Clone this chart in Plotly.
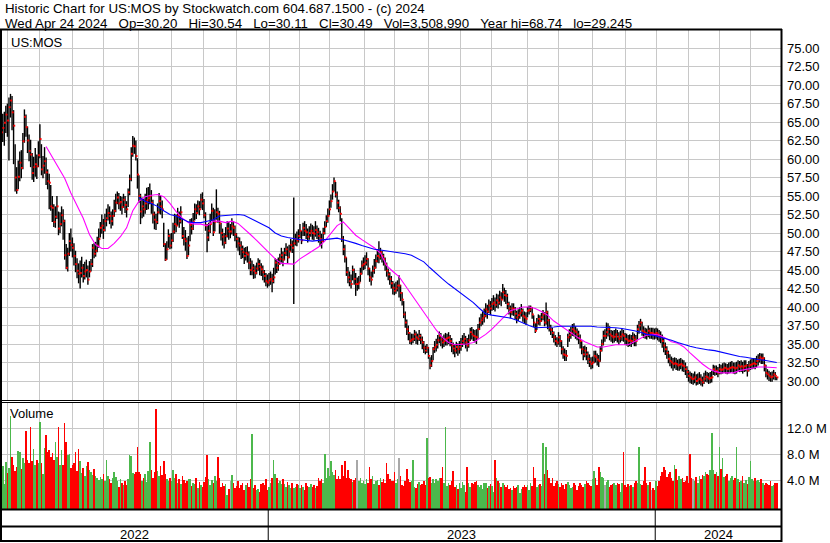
import plotly.graph_objects as go
import pandas as pd

# ---------------- data ----------------
close = [
    63.6, 64.2, 64.9, 66.0, 65.2, 67.0, 67.9, 66.3, 64.5, 57.5,
    55.8, 57.6, 59.5, 58.8, 62.4, 65.7, 64.3, 62.5, 61.1, 60.6,
    58.1, 58.9, 59.3, 59.0, 60.5, 62.7, 58.6, 59.1, 59.7, 58.2,
    57.0, 56.8, 53.6, 53.4, 51.5, 52.2, 53.6, 50.6, 51.2, 52.4,
    51.6, 47.0, 45.3, 47.2, 48.9, 48.4, 48.0, 46.9, 45.8, 44.9,
    44.5, 44.6, 45.3, 44.2, 44.8, 45.0, 43.7, 44.8, 45.8, 48.0,
    47.2, 47.6, 48.3, 49.2, 50.7, 51.0, 50.4, 51.6, 52.0, 52.7,
    52.3, 51.6, 52.3, 53.0, 54.1, 54.8, 54.0, 54.2, 53.5, 54.5,
    53.8, 53.2, 55.5, 57.3, 60.7, 61.8, 61.7, 60.4, 57.9, 55.0,
    52.9, 53.6, 53.2, 54.0, 54.4, 54.7, 55.0, 54.1, 52.5, 51.8,
    51.5, 52.8, 54.3, 53.6, 53.2, 48.5, 46.4, 47.8, 49.6, 48.3,
    49.0, 50.2, 51.2, 51.0, 52.3, 51.6, 52.8, 49.6, 49.2, 48.9,
    46.9, 48.3, 51.1, 50.6, 51.5, 53.2, 52.7, 53.6, 53.2, 54.5,
    54.0, 52.4, 51.0, 49.4, 50.3, 51.2, 53.0, 50.1, 51.5, 52.8,
    52.6, 51.3, 50.0, 49.5, 48.7, 49.6, 50.6, 50.2, 50.2, 50.9,
    50.7, 49.8, 49.2, 48.6, 48.3, 47.8, 47.4, 46.9, 47.3, 47.1,
    46.0, 45.0, 45.3, 44.9, 44.6, 45.2, 45.8, 45.4, 45.1, 44.7,
    44.2, 43.5, 43.3, 43.6, 43.8, 43.5, 44.0, 46.0, 45.3, 45.8,
    46.5, 47.0, 46.4, 47.3, 47.8, 46.7, 47.5, 48.4, 48.0, 48.6,
    49.2, 49.0, 49.6, 50.3, 49.0, 50.7, 50.3, 50.1, 49.5, 50.0,
    50.3, 50.0, 49.9, 50.4, 50.1, 49.6, 49.2, 48.9, 50.0, 50.8,
    51.6, 52.3, 53.2, 54.3, 55.6, 57.0, 55.2, 54.1, 53.4, 52.6,
    49.2, 47.8, 46.7, 44.7, 44.0, 43.5, 43.1, 45.0, 43.8, 43.1,
    43.1, 43.3, 44.5, 45.6, 45.8, 46.0, 46.5, 45.2, 44.0, 43.7,
    44.9, 45.3, 46.2, 46.9, 46.7, 47.4, 46.9, 46.5, 45.8, 44.9,
    44.4, 43.8, 43.2, 42.6, 42.2, 42.5, 42.9, 42.9, 41.9, 41.0,
    39.0, 37.9, 37.0, 36.5, 35.4, 35.6, 35.7, 36.3, 35.9, 35.7,
    36.1, 35.6, 35.2, 34.5, 34.1, 34.5, 33.4, 32.1, 32.7, 34.3,
    34.6, 34.9, 35.5, 36.1, 35.6, 35.2, 35.4, 35.7, 35.8, 35.9,
    35.4, 34.8, 34.4, 34.1, 34.6, 34.3, 34.6, 35.0, 35.4, 35.7,
    35.2, 34.8, 35.5, 36.6, 36.3, 36.1, 36.0, 35.9, 37.0, 37.9,
    38.2, 38.5, 38.8, 39.7, 39.4, 40.2, 39.8, 40.4, 40.6, 40.3,
    40.9, 40.6, 41.3, 41.0, 42.0, 41.6, 41.5, 40.4, 39.8, 39.3,
    39.8, 39.7, 39.1, 38.6, 38.9, 39.2, 39.5, 38.8, 38.6, 38.4,
    39.5, 39.6, 39.9, 39.0, 37.9, 36.8, 37.9, 38.4, 38.1, 38.6,
    39.0, 37.9, 39.3, 38.2, 37.2, 36.9, 36.5, 35.9, 35.4, 35.2,
    35.9, 35.4, 34.3, 33.6, 33.5, 33.4, 35.9, 36.2, 36.5, 37.0,
    36.8, 36.6, 36.3, 35.8, 35.4, 34.3, 33.6, 34.1, 33.6, 33.0,
    32.6, 32.3, 32.5, 33.4, 33.2, 32.9, 32.7, 34.1, 35.0, 36.1,
    36.1, 36.6, 37.0, 36.3, 36.1, 35.9, 36.0, 36.3, 36.0, 35.7,
    36.0, 36.3, 36.1, 35.7, 35.6, 35.4, 35.5, 35.4, 35.9, 35.6,
    35.4, 37.0, 37.5, 37.9, 36.8, 36.6, 36.5, 36.3, 36.8, 36.5,
    36.5, 36.4, 36.3, 36.5, 36.3, 36.1, 35.9, 35.4, 34.8, 34.3,
    33.8, 33.0, 32.7, 32.5, 32.3, 32.4, 32.3, 32.1, 32.2, 32.3,
    32.1, 32.0, 31.6, 31.2, 30.7, 30.5, 30.3, 30.3, 30.5, 30.0,
    30.2, 30.3, 30.1, 29.8, 30.3, 30.6, 30.5, 30.3, 30.4, 30.5,
    31.6, 31.3, 31.4, 31.1, 31.6, 31.5, 31.6, 31.8, 31.7, 31.6,
    31.7, 31.8, 31.9, 31.8, 31.7, 31.8, 32.1, 31.9, 32.0, 31.8,
    32.0, 32.1, 31.4, 32.1, 32.2, 32.3, 32.4, 32.3, 32.7, 32.9,
    33.2, 33.0, 33.1, 32.1, 31.1, 30.9, 30.7, 30.5, 30.6, 30.9,
    30.7, 30.49,
]

high = [
    65.8, 66.1, 66.4, 67.2, 67.5, 68.3, 68.8, 68.5, 66.6, 62.0,
    58.9, 59.8, 61.0, 61.2, 63.5, 66.7, 66.0, 64.4, 63.3, 62.6,
    60.8, 60.3, 61.5, 60.6, 62.4, 64.7, 62.0, 60.4, 61.6, 60.2,
    58.6, 58.0, 56.5, 55.0, 53.9, 53.6, 55.0, 52.9, 52.8, 53.6,
    53.2, 51.8, 48.5, 48.0, 50.0, 50.6, 49.4, 48.6, 47.6, 46.6,
    45.9, 46.3, 46.8, 45.8, 46.1, 46.4, 45.6, 46.2, 46.5, 48.5,
    48.6, 48.8, 49.5, 50.6, 51.5, 52.5, 51.9, 52.6, 53.3, 53.9,
    53.6, 52.9, 53.2, 54.5, 55.3, 55.6, 55.4, 55.0, 54.9, 55.3,
    55.0, 54.3, 56.0, 57.9, 61.6, 63.1, 62.9, 62.5, 60.1, 57.8,
    55.3, 54.8, 54.6, 55.3, 56.1, 56.2, 56.7, 55.8, 54.5, 52.9,
    52.6, 54.0, 55.4, 55.0, 54.4, 51.4, 48.6, 48.9, 50.5, 49.9,
    50.0, 51.4, 52.6, 52.5, 53.4, 52.9, 53.6, 52.0, 50.8, 50.4,
    49.4, 49.6, 51.9, 52.0, 52.7, 54.0, 53.9, 54.4, 54.3, 55.3,
    55.5, 54.6, 52.8, 51.2, 51.4, 52.6, 54.0, 53.4, 53.2, 55.9,
    53.4, 53.0, 51.4, 50.6, 50.0, 50.8, 51.6, 51.5, 51.2, 52.0,
    51.6, 51.0, 50.0, 49.5, 49.4, 48.9, 48.3, 48.0, 48.1, 48.2,
    47.5, 46.6, 46.3, 45.8, 45.6, 46.0, 46.6, 46.4, 45.9, 45.6,
    45.0, 44.6, 44.4, 44.6, 44.8, 44.5, 45.3, 46.6, 46.5, 46.7,
    47.2, 48.0, 47.5, 48.0, 48.6, 48.2, 48.4, 49.2, 49.0, 54.8,
    49.9, 50.2, 50.5, 51.2, 50.3, 51.4, 51.6, 51.2, 50.6, 50.9,
    51.3, 51.1, 50.9, 51.6, 51.0, 50.7, 50.3, 49.9, 50.7, 51.6,
    52.4, 53.3, 54.4, 55.2, 56.6, 57.5, 56.9, 55.6, 54.5, 53.6,
    52.0, 49.6, 48.4, 46.7, 45.4, 44.8, 44.4, 45.6, 45.2, 44.6,
    44.0, 44.2, 45.3, 46.3, 46.7, 47.0, 47.4, 46.6, 45.3, 44.8,
    45.6, 46.5, 47.1, 47.8, 48.9, 48.0, 47.6, 47.2, 46.7, 46.0,
    45.2, 44.7, 44.2, 43.5, 43.2, 43.4, 43.6, 44.3, 43.0, 42.0,
    40.8, 39.4, 38.3, 37.5, 36.6, 36.4, 36.4, 36.9, 36.7, 36.4,
    36.9, 36.4, 36.0, 35.4, 34.8, 35.0, 34.6, 33.2, 33.5, 34.6,
    35.4, 35.7, 36.2, 36.7, 36.5, 36.0, 36.3, 36.5, 36.4, 36.6,
    36.2, 35.8, 35.2, 35.0, 35.3, 35.1, 35.4, 35.8, 36.2, 36.5,
    36.1, 35.8, 36.3, 37.2, 37.3, 37.0, 36.9, 37.0, 37.7, 38.6,
    39.1, 39.4, 39.8, 40.5, 40.3, 41.0, 40.8, 41.2, 41.6, 41.3,
    41.8, 41.7, 42.2, 42.0, 43.1, 42.6, 42.3, 41.8, 40.7, 40.2,
    40.5, 40.5, 40.0, 39.5, 39.7, 40.0, 40.4, 39.8, 39.4, 39.3,
    40.0, 40.2, 40.2, 40.0, 38.9, 37.8, 38.5, 39.0, 38.9, 39.2,
    39.6, 39.3, 40.6, 39.5, 38.4, 37.6, 37.2, 36.7, 36.2, 35.9,
    36.6, 36.2, 35.5, 34.7, 34.4, 34.2, 36.4, 37.0, 37.3, 37.7,
    37.8, 37.4, 37.1, 36.8, 36.3, 35.4, 34.7, 34.8, 34.6, 34.0,
    33.6, 33.2, 33.3, 34.1, 34.1, 33.7, 33.5, 34.7, 35.6, 36.8,
    37.0, 37.9, 37.8, 37.4, 36.9, 36.8, 36.9, 37.1, 36.9, 36.6,
    36.8, 37.1, 36.9, 36.5, 36.4, 36.2, 36.3, 36.2, 36.6, 36.4,
    36.2, 37.6, 38.1, 38.4, 38.0, 37.4, 37.2, 37.1, 37.5, 37.2,
    37.2, 37.2, 37.1, 37.2, 37.1, 36.9, 36.7, 36.3, 35.8, 35.2,
    34.7, 34.1, 33.6, 33.3, 33.1, 33.2, 33.1, 32.9, 33.0, 33.1,
    32.9, 32.8, 32.5, 32.0, 31.5, 31.3, 31.1, 31.0, 31.3, 30.9,
    31.0, 31.2, 30.9, 30.6, 31.1, 31.4, 31.2, 31.1, 31.2, 31.4,
    32.2, 32.1, 32.1, 31.9, 32.3, 32.2, 32.4, 32.5, 32.4, 32.3,
    32.5, 32.6, 32.7, 32.5, 32.5, 32.6, 32.8, 32.7, 32.8, 32.6,
    32.8, 32.8, 32.3, 32.7, 32.9, 33.0, 33.1, 33.1, 33.4, 33.6,
    33.8, 33.7, 33.7, 33.2, 32.2, 31.6, 31.4, 31.2, 31.3, 31.5,
    31.2, 30.54,
]

low = [
    61.9, 62.3, 61.8, 63.5, 63.0, 59.8, 65.6, 63.9, 59.3, 55.6,
    55.3, 55.9, 57.0, 57.4, 58.6, 62.2, 63.0, 60.8, 59.7, 58.9,
    57.2, 56.9, 57.6, 57.3, 58.9, 60.1, 57.8, 57.4, 58.0, 56.5,
    55.9, 53.2, 53.0, 51.5, 50.8, 50.7, 51.9, 49.7, 50.0, 50.9,
    49.1, 46.4, 45.1, 44.8, 46.9, 47.5, 46.7, 45.6, 44.7, 43.9,
    43.2, 42.5, 44.0, 43.3, 43.7, 44.0, 43.0, 44.0, 44.8, 45.4,
    46.6, 46.8, 47.4, 48.0, 49.4, 49.9, 49.2, 50.2, 50.9, 51.7,
    51.2, 50.6, 51.0, 52.2, 52.8, 53.9, 53.2, 53.0, 52.5, 53.4,
    52.7, 52.1, 53.5, 55.1, 57.0, 60.3, 60.7, 59.8, 56.0, 54.1,
    51.2, 52.0, 52.2, 52.6, 53.1, 53.2, 53.9, 52.6, 51.3, 50.5,
    50.4, 51.2, 52.6, 52.5, 52.0, 48.1, 46.2, 46.4, 48.0, 47.8,
    47.9, 48.8, 49.9, 50.1, 51.0, 50.7, 51.3, 49.2, 48.3, 47.6,
    46.5, 47.0, 48.9, 49.8, 50.4, 51.7, 51.9, 52.6, 52.4, 53.3,
    53.1, 52.0, 50.3, 47.4, 48.9, 50.0, 51.6, 49.6, 50.2, 51.8,
    51.4, 49.9, 49.0, 48.3, 47.9, 48.5, 49.4, 49.1, 49.3, 49.8,
    49.6, 48.9, 48.0, 47.6, 47.0, 46.5, 46.6, 45.8, 46.3, 46.0,
    45.1, 44.3, 44.3, 43.8, 43.9, 44.4, 44.9, 44.3, 44.2, 43.6,
    43.3, 42.8, 42.6, 42.8, 43.0, 42.0, 43.2, 44.4, 44.6, 44.9,
    45.7, 46.0, 45.5, 46.3, 46.9, 45.9, 46.6, 47.5, 47.3, 40.4,
    48.3, 48.2, 48.7, 49.3, 48.5, 49.6, 49.6, 49.2, 48.7, 49.1,
    49.5, 49.1, 49.0, 49.5, 49.2, 48.7, 48.2, 47.9, 48.8, 49.8,
    50.8, 51.4, 52.4, 53.4, 54.5, 55.6, 54.8, 53.2, 52.8, 51.6,
    48.8, 47.0, 46.0, 44.2, 43.2, 42.8, 42.5, 43.6, 43.0, 41.5,
    42.2, 42.4, 43.4, 44.4, 45.0, 45.1, 45.6, 44.3, 43.4, 42.9,
    44.0, 44.5, 45.2, 46.0, 45.9, 46.4, 46.0, 45.6, 44.9, 44.1,
    43.6, 43.0, 42.5, 41.7, 41.6, 41.8, 42.1, 41.3, 40.8, 40.2,
    38.5, 37.2, 36.2, 35.5, 35.0, 34.9, 35.1, 35.4, 35.0, 34.9,
    35.4, 35.0, 34.3, 33.8, 33.6, 33.8, 33.0, 31.6, 31.9, 32.8,
    33.8, 34.0, 34.4, 35.1, 34.7, 34.4, 34.6, 34.8, 34.8, 35.0,
    34.7, 33.9, 33.6, 33.2, 33.7, 33.4, 33.7, 34.1, 34.6, 34.9,
    34.4, 34.0, 34.5, 35.4, 35.6, 35.4, 35.2, 35.0, 35.7, 36.9,
    37.4, 37.6, 37.9, 38.6, 38.4, 39.2, 38.9, 39.5, 39.6, 39.4,
    39.9, 39.8, 40.3, 40.1, 41.0, 40.7, 40.4, 39.7, 39.0, 38.5,
    38.9, 38.8, 38.3, 37.8, 38.1, 38.4, 38.7, 38.0, 37.7, 37.6,
    38.6, 39.0, 39.3, 38.4, 37.3, 36.5, 36.9, 37.6, 37.5, 38.0,
    38.2, 37.4, 37.6, 37.0, 36.7, 36.2, 35.8, 35.2, 34.8, 34.6,
    34.9, 34.6, 33.6, 33.0, 32.7, 32.7, 34.6, 35.3, 35.7, 36.1,
    36.0, 35.7, 35.5, 35.0, 34.4, 33.6, 32.8, 33.2, 32.8, 32.3,
    31.9, 31.6, 31.7, 32.4, 32.5, 32.1, 31.9, 32.6, 34.0, 34.8,
    35.3, 35.7, 36.0, 35.5, 35.3, 35.1, 35.2, 35.4, 35.2, 34.9,
    35.2, 35.4, 35.3, 34.9, 34.8, 34.6, 34.7, 34.6, 35.0, 34.7,
    34.7, 35.6, 36.4, 36.8, 36.1, 35.8, 35.7, 35.6, 35.9, 35.7,
    35.7, 35.6, 35.6, 35.7, 35.5, 35.3, 35.1, 34.5, 33.9, 33.5,
    33.0, 32.4, 32.0, 31.7, 31.4, 31.7, 31.5, 31.4, 31.4, 31.6,
    31.3, 31.2, 30.8, 30.4, 29.9, 29.7, 29.6, 29.5, 29.7, 29.4,
    29.5, 29.6, 29.4, 29.25, 29.6, 29.9, 29.8, 29.6, 29.7, 29.8,
    30.8, 30.7, 30.8, 30.5, 30.9, 30.9, 31.0, 31.1, 31.0, 30.9,
    31.0, 31.1, 31.2, 31.0, 30.9, 31.0, 31.3, 31.2, 31.2, 31.0,
    31.2, 31.3, 30.6, 31.3, 31.5, 31.6, 31.7, 31.6, 31.9, 32.1,
    32.5, 32.3, 32.3, 31.3, 30.5, 30.2, 30.0, 29.9, 29.9, 30.2,
    30.1, 30.11,
]

volume_m = [
    11.0, 6.2, 3.4, 6.8, 5.1, 5.9, 14.0, 7.6, 6.4, 5.4,
    6.0, 8.5, 8.4, 5.7, 7.5, 6.6, 11.7, 7.2, 6.6, 12.2,
    7.0, 8.9, 6.3, 7.1, 6.6, 13.0, 6.6, 4.9, 9.0, 11.0,
    8.3, 8.7, 7.6, 8.2, 7.1, 10.0, 7.6, 12.3, 6.4, 8.7,
    6.3, 12.9, 10.0, 7.9, 8.0, 5.9, 6.3, 6.7, 8.4, 5.4,
    8.9, 7.0, 5.1, 5.9, 4.6, 6.2, 6.8, 5.5, 5.2, 4.8,
    5.7, 4.7, 4.3, 4.0, 4.5, 4.2, 5.0, 3.9, 7.1, 4.6,
    4.1, 3.6, 4.4, 5.3, 4.5, 3.9, 2.9, 4.1, 3.6, 3.2,
    3.9, 3.3, 4.2, 7.9, 7.8, 5.1, 4.9, 5.3, 9.2, 5.2,
    4.9, 3.8, 4.3, 5.0, 3.7, 5.4, 10.0, 5.6, 4.4, 5.3,
    15.0, 5.4, 4.6, 6.2, 4.8, 7.0, 5.0, 4.1, 3.8, 4.4,
    3.8, 5.6, 4.4, 4.9, 3.6, 4.1, 3.4, 4.7, 4.0, 3.5,
    3.8, 4.2, 4.1, 3.1, 3.6, 3.4, 4.3, 2.8, 3.7, 3.3,
    2.9, 3.7, 4.5, 7.9, 4.1, 3.2, 4.0, 3.6, 4.6, 3.9,
    7.6, 4.3, 3.0, 3.5, 3.1, 3.4, 1.7, 2.6, 3.8, 4.8,
    3.5, 2.8, 3.1, 3.9, 2.7, 3.3, 3.5, 2.4, 3.3, 3.6,
    3.0, 4.1, 11.1, 2.7, 3.2, 2.4, 2.6, 2.2, 3.4, 3.6,
    3.2, 4.2, 2.5, 3.0, 3.6, 4.4, 7.1, 5.0, 4.3, 3.6,
    3.9, 3.4, 4.1, 3.4, 2.9, 3.7, 3.2, 2.7, 3.5, 2.8,
    3.0, 3.4, 3.2, 2.8, 3.3, 3.0, 2.5, 3.6, 3.1, 2.9,
    3.4, 3.0, 3.2, 2.7, 3.1, 4.3, 3.8, 4.1, 3.5, 8.1,
    4.4, 5.9, 4.7, 6.9, 5.2, 4.8, 5.5, 4.1, 4.7, 4.2,
    6.4, 4.6, 6.9, 4.3, 5.5, 4.3, 4.1, 3.7, 4.0, 4.4,
    7.1, 3.8, 4.3, 3.6, 3.9, 3.4, 4.1, 3.5, 6.1, 4.2,
    4.7, 3.4, 3.8, 4.0, 3.3, 4.3, 3.7, 4.1, 3.6, 6.6,
    4.9, 4.2, 3.9, 3.8, 5.3, 3.6, 4.1, 7.4, 4.6, 3.3,
    3.1, 3.8, 5.8, 4.2, 3.7, 3.9, 7.1, 3.0, 2.8, 3.4,
    3.7, 3.2, 3.4, 3.9, 3.3, 10.5, 4.3, 4.5, 3.6, 4.2,
    3.5, 4.1, 3.8, 4.3, 4.4, 6.0, 3.5, 12.2, 3.1, 3.6,
    3.2, 3.9, 5.4, 3.0, 3.3, 2.6, 3.5, 2.8, 3.7, 3.2,
    2.1, 6.0, 3.6, 2.9, 3.6, 3.4, 3.7, 3.8, 3.3, 3.0,
    3.2, 2.6, 3.6, 3.5, 2.7, 3.1, 3.4, 3.1, 2.2, 7.1,
    4.4, 3.8, 3.5, 2.9, 3.5, 3.2, 3.0, 3.3, 2.6, 2.8,
    2.4, 3.1, 2.8, 3.0, 3.3, 2.0, 2.6, 2.9, 3.2, 2.9,
    3.3, 2.5, 3.6, 3.1, 6.0, 4.4, 3.0, 3.3, 3.4, 3.1,
    9.7, 5.0, 9.2, 5.6, 4.4, 3.6, 4.3, 3.1, 3.5, 3.8,
    3.4, 2.9, 3.6, 3.2, 2.6, 3.4, 3.7, 3.2, 2.7, 3.0,
    3.5, 3.3, 2.4, 3.1, 3.6, 3.3, 3.0, 3.4, 3.8, 3.6,
    3.2, 3.1, 4.1, 5.4, 4.4, 3.3, 6.0, 5.3, 4.5, 4.4,
    3.2, 3.7, 4.0, 3.0, 3.2, 3.4, 3.6, 3.2, 3.5, 3.4,
    2.2, 3.5, 8.3, 3.3, 2.9, 3.4, 3.1, 3.2, 3.0, 3.5,
    3.8, 3.6, 9.1, 3.4, 3.3, 3.8, 6.0, 3.6, 3.3, 3.7,
    2.4, 2.7, 2.5, 3.8, 3.1, 3.9, 4.6, 5.2, 6.0, 5.6,
    4.5, 5.0, 5.3, 4.3, 3.8, 6.4, 5.8, 4.0, 4.6, 4.2,
    4.4, 3.7, 3.9, 4.6, 3.6, 8.0, 4.4, 4.1, 3.9, 4.5,
    3.6, 4.7, 4.2, 4.8, 4.6, 5.2, 4.9, 4.8, 5.6, 11.4,
    5.5, 4.9, 5.2, 4.6, 9.1, 5.8, 7.5, 4.5, 4.6, 5.0,
    3.9, 4.3, 4.6, 4.0, 4.4, 9.1, 4.2, 3.7, 3.8, 4.6,
    3.6, 4.0, 3.4, 4.5, 7.0, 4.1, 3.9, 4.4, 3.8, 4.0,
    3.7, 4.2, 3.5, 3.3, 3.6, 3.4, 3.2, 3.9, 3.1, 3.3,
    3.5, 3.5,
]

# moving averages, one value every 4 sessions
ma_fast = [
    61.7, 60.2, 58.7, 57.4, 55.4, 53.8, 52.0, 49.8, 48.4, 47.9,
    47.9, 48.6, 49.5, 50.7, 53.0, 54.3, 54.9, 55.1, 55.2, 54.9,
    54.0, 52.9, 52.0, 51.4, 51.2, 51.2, 51.0, 51.6, 51.6, 51.4,
    51.6, 51.3, 50.6, 49.8, 49.0, 48.2, 47.3, 46.5, 45.9, 45.8,
    45.8, 46.5, 47.0, 47.5, 48.1, 48.9, 49.9, 51.0, 51.5, 50.6,
    49.7, 49.1, 48.6, 48.0, 47.3, 45.6, 44.8, 44.1, 42.9, 41.7,
    40.4, 39.2, 38.1, 36.9, 35.9, 35.2, 34.9, 34.9, 35.0, 35.2,
    35.7, 36.3, 37.0, 37.9, 38.7, 39.5, 39.7, 40.0, 40.0, 39.8,
    39.4, 38.9, 38.1, 37.5, 36.9, 36.4, 35.8, 35.3, 34.9, 34.6,
    34.6, 34.8, 34.9, 34.9, 34.9, 35.3, 35.7, 36.2, 36.3, 36.2,
    35.8, 35.3, 35.1, 34.6, 33.8, 33.0, 32.3, 31.7, 31.3, 31.1,
    31.1, 31.1, 31.4, 31.6, 31.8, 31.9, 31.9, 31.8, 31.8,
]
ma_slow = [
    54.8, 54.3, 54.0, 53.6, 53.0, 52.5, 52.3, 51.9, 51.5, 51.4,
    51.4, 51.6, 51.8, 52.3, 52.4, 52.5, 52.5, 52.4, 52.0, 51.6,
    51.2, 50.7, 50.0, 49.6, 49.4, 49.2, 49.1, 49.0, 48.9, 49.0,
    49.1, 49.3, 49.3, 49.1, 48.9, 48.6, 48.3, 48.0, 47.8, 47.7,
    47.6, 47.5, 47.4, 47.2, 47.0, 46.6, 46.1, 45.3, 44.5, 43.8,
    43.1, 42.5, 41.9, 41.3, 40.6, 39.8, 39.1, 38.9, 38.8, 38.7,
    38.5, 38.2, 37.8, 37.5, 37.2, 37.2, 37.2, 37.3, 37.4, 37.4,
    37.5, 37.5, 37.5, 37.4, 37.3, 37.3, 37.3, 37.2, 37.1, 37.0,
    36.8, 36.6, 36.3, 36.2, 36.0, 35.8, 35.5, 35.2, 34.9, 34.7,
    34.5, 34.3, 34.2, 34.1, 33.9, 33.6, 33.5, 33.3, 33.2, 33.0,
    32.9, 32.8, 32.7, 32.5,
]

last_session = "2024-04-24"
market_holidays = [
    "2022-05-30", "2022-06-20", "2022-07-04", "2022-09-05", "2022-11-24",
    "2022-12-26", "2023-01-02", "2023-01-16", "2023-02-20", "2023-04-07",
    "2023-05-29", "2023-06-19", "2023-07-04", "2023-09-04", "2023-11-23",
    "2023-12-25", "2024-01-01", "2024-01-15", "2024-02-19", "2024-03-29",
]
price_ticks = [30.0, 32.5, 35.0, 37.5, 40.0, 42.5, 45.0, 47.5, 50.0, 52.5,
               55.0, 57.5, 60.0, 62.5, 65.0, 67.5, 70.0, 72.5, 75.0]
volume_ticks = [4.0, 8.0, 12.0]
volume_tick_text = ["4.0 M", "8.0 M", "12.0 M"]

title_line1 = "Historic Chart for US:MOS by Stockwatch.com 604.687.1500 - (c) 2024"
title_fields = ["Wed Apr 24 2024", "Op=30.20", "Hi=30.54", "Lo=30.11", "Cl=30.49",
                "Vol=3,508,990", "Year hi=68.74", "lo=29.245"]
symbol_label = "US:MOS"

n = len(close)
if not (len(high) == n and len(low) == n and len(volume_m) == n):
    raise SystemExit(f"length mismatch {len(close)} {len(high)} {len(low)} {len(volume_m)}")

# ---------------- geometry ----------------
W, H = 830, 543
X0, DX = 1.2, 1.548          # pixel of first session, pixels per session
PANEL_R = 781                # right frame of the chart panels
P_TOP, P_BOT = 30, 400       # price panel (pixels)
V_TOP, V_BOT = 402, 509      # volume panel (pixels)
A_MID, A_BOT = 526.5, 541    # year axis rows
FAST_START, SLOW_START, MA_STEP = 29, 89, 4

GRID = "#c8c8c8"
TXT = "#000000"
FONT = "Liberation Sans, Arial, sans-serif"
GREEN, RED, GREY = "#4cb84c", "#ff0000", "#a8a8a8"


def px(x):
    return x / W


def py(y):
    return 1 - y / H


dates = pd.bdate_range(end=last_session, periods=n, freq="C", holidays=market_holidays)
idx = list(range(n))
month_starts = [i for i in range(1, n) if dates[i].month != dates[i - 1].month]
year_starts = [i for i in range(1, n) if dates[i].year != dates[i - 1].year]
years = [str(dates[0].year)] + [str(dates[i].year) for i in year_starts]

x_range = [(0 - X0) / DX, (PANEL_R - X0) / DX]
p_per_px = 7.4
price_range = [30 - (P_BOT - 381) / p_per_px, 30 + (381 - P_TOP) / p_per_px]
v_px = 6.43
v_zero = 505.8
vol_range = [-(V_BOT - v_zero) / v_px, (v_zero - V_TOP) / v_px]
VBASE = vol_range[0]

fig = go.Figure()

# high-low bars
seg_x, seg_y = [], []
for i in idx:
    seg_x += [i, i, None]
    seg_y += [low[i], high[i], None]
fig.add_trace(go.Scatter(x=seg_x, y=seg_y, mode="lines", line=dict(color="black", width=1.4),
                         hoverinfo="skip", xaxis="x", yaxis="y"))
# close ticks
fig.add_trace(go.Scatter(x=[i + 0.45 for i in idx], y=close, mode="markers",
                         marker=dict(symbol="square", size=1.9, color="#ff0000", line=dict(width=0)),
                         hoverinfo="skip", xaxis="x", yaxis="y"))
# moving averages
fig.add_trace(go.Scatter(x=[FAST_START + MA_STEP * k for k in range(len(ma_fast))], y=ma_fast,
                         mode="lines", line=dict(color="#ff00ff", width=1.1), hoverinfo="skip",
                         xaxis="x", yaxis="y"))
fig.add_trace(go.Scatter(x=[SLOW_START + MA_STEP * k for k in range(len(ma_slow))], y=ma_slow,
                         mode="lines", line=dict(color="#0000ff", width=1.1), hoverinfo="skip",
                         xaxis="x", yaxis="y"))

# volume
colors = []
for i in idx:
    if i == 0 or close[i] > close[i - 1]:
        colors.append(GREEN)
    elif close[i] < close[i - 1]:
        colors.append(RED)
    else:
        colors.append(GREY)
fig.add_trace(go.Bar(x=idx, y=[v - VBASE for v in volume_m], base=VBASE, width=1.0,
                     marker=dict(color=colors, line=dict(width=0)), hoverinfo="skip",
                     xaxis="x2", yaxis="y2"))

xcommon = dict(range=x_range, domain=[0, px(PANEL_R)], tickvals=month_starts,
               showticklabels=False, ticks="", showgrid=True, gridcolor=GRID, gridwidth=1,
               zeroline=False, showline=False, fixedrange=True)
fig.update_layout(
    width=W, height=H, margin=dict(l=0, r=0, t=0, b=0),
    paper_bgcolor="white", plot_bgcolor="white", showlegend=False, bargap=0,
    font=dict(family=FONT, size=13, color=TXT),
    xaxis=dict(anchor="y", **xcommon),
    xaxis2=dict(anchor="y2", **xcommon),
    yaxis=dict(domain=[py(P_BOT), py(P_TOP)], range=price_range, side="right", anchor="x",
               tickvals=price_ticks, ticktext=[f"{t:.2f}" for t in price_ticks],
               ticks="", ticklabelstandoff=5, showgrid=True, gridcolor=GRID, gridwidth=1,
               zeroline=False, showline=False, tickfont=dict(size=13, color=TXT), fixedrange=True),
    yaxis2=dict(domain=[py(V_BOT), py(V_TOP)], range=vol_range, side="right", anchor="x2",
                tickvals=volume_ticks, ticktext=volume_tick_text,
                ticks="", ticklabelstandoff=5, showgrid=True, gridcolor=GRID, gridwidth=1,
                zeroline=False, showline=False, tickfont=dict(size=13, color=TXT), fixedrange=True),
)

# frames
shapes = []


def hline(y, x0, x1, w):
    shapes.append(dict(type="line", xref="paper", yref="paper", x0=px(x0), x1=px(x1),
                       y0=py(y), y1=py(y), line=dict(color="black", width=w), layer="above"))


def vline(x, y0, y1, w):
    shapes.append(dict(type="line", xref="paper", yref="paper", x0=px(x), x1=px(x),
                       y0=py(y0), y1=py(y1), line=dict(color="black", width=w), layer="above"))


hline(P_TOP - 0.5, 0, PANEL_R + 1, 2)
hline(P_BOT + 0.5, 0, PANEL_R + 1, 1)
hline(V_TOP + 0.5, 0, PANEL_R + 1, 1)
hline(V_BOT + 0.5, 0, PANEL_R + 1, 2)
hline(A_MID, 0, PANEL_R + 1, 2)
hline(A_BOT, 0, PANEL_R + 1, 2)
vline(1, P_TOP - 1, A_BOT + 1, 2)
vline(PANEL_R + 0.5, P_TOP - 1, A_BOT + 1, 2)
sep_px = [X0 + DX * (i - 0.5) for i in year_starts]
for s in sep_px:
    vline(s, V_BOT + 1, A_BOT, 1)
fig.update_layout(shapes=shapes)

# texts
ann = []
NB = "\u00a0"
ann.append(dict(text=title_line1, x=px(3), y=py(9), xref="paper", yref="paper",
                xanchor="left", yanchor="middle", showarrow=False,
                font=dict(size=13.3, family=FONT, color=TXT)))
ann.append(dict(text=(NB * 3).join(title_fields), x=px(3), y=py(23), xref="paper", yref="paper",
                xanchor="left", yanchor="middle", showarrow=False,
                font=dict(size=13.3, family=FONT, color=TXT)))
ann.append(dict(text=symbol_label, x=px(9), y=py(42.5), xref="paper", yref="paper",
                xanchor="left", yanchor="middle", showarrow=False, font=dict(size=13, color=TXT)))
ann.append(dict(text="Volume", x=px(8), y=py(413.5), xref="paper", yref="paper",
                xanchor="left", yanchor="middle", showarrow=False, font=dict(size=13, color=TXT)))
bounds = [0] + sep_px + [PANEL_R]
for k, yl in enumerate(years):
    cx = (bounds[k] + bounds[k + 1]) / 2
    ann.append(dict(text=yl, x=px(cx), y=py(534.5), xref="paper", yref="paper",
                    xanchor="center", yanchor="middle", showarrow=False, font=dict(size=13, color=TXT)))
fig.update_layout(annotations=ann)

fig.write_html("out.html", config={"displayModeBar": False, "staticPlot": True},
               post_script="document.body.style.margin='0';document.body.style.padding='0';"
                           "document.body.style.overflow='hidden';")
